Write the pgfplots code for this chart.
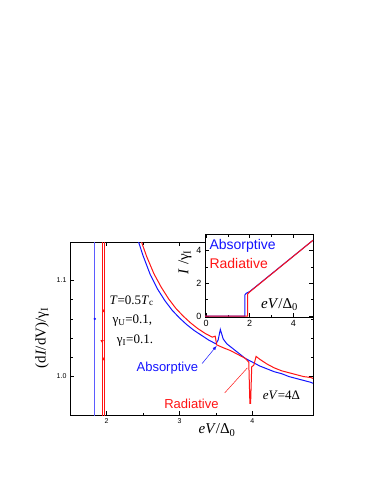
\documentclass[border=0pt]{standalone}
\usepackage{fontspec}
\setmainfont{Liberation Serif}
\setsansfont{Liberation Sans}
\usepackage{pgfplots}
\pgfplotsset{compat=1.18}
\definecolor{cb}{RGB}{20,20,255}
\definecolor{cr}{RGB}{255,20,20}
\begin{document}
\begin{tikzpicture}
\useasboundingbox (0pt,0pt) rectangle (374pt,-484pt);
\begin{axis}[at={(70pt,-415pt)}, anchor=south west, scale only axis,
  width=243pt, height=173pt,
  xmin=1.5, xmax=4.83, ymin=0.96, ymax=1.14,
  xtick={2,3,4}, minor x tick num=1,
  ytick={1.0,1.1}, minor y tick num=4,
  tick align=inside, major tick length=4pt, minor tick length=2.5pt,
  axis line style={line width=0.9pt}, tick style={line width=0.6pt,black},
  yticklabel style={/pgf/number format/fixed,/pgf/number format/precision=1,/pgf/number format/fixed zerofill},
  ticklabel style={font=\sffamily\fontsize{7}{8}\selectfont},
  /pgf/number format/assume math mode=true,
  xlabel={\fontsize{15}{16}\selectfont\textit{eV}/Δ\textsubscript{0}},
  ylabel={\fontsize{15}{16}\selectfont(d\textit{I}/dV)/γ\textsubscript{I}},
  every axis x label/.style={at={(axis description cs:0.605,-0.087)},anchor=center},
  every axis y label/.style={at={(axis description cs:-0.115,0.445)},rotate=90,anchor=center},
  clip=true]
% vertical lines
\addplot[cb!70, line width=1pt] coordinates {(1.84,0.9) (1.84,1.2)};
\addplot[cr, line width=0.6pt] coordinates {(1.94,0.9) (1.94,1.2)};
\addplot[cr, line width=0.6pt] coordinates {(1.965,0.9) (1.965,1.2)};
\addplot[only marks, mark=*, mark size=1pt, cb] coordinates {(1.84,1.06)};
\addplot[only marks, mark=triangle*, mark size=1.5pt, cr] coordinates {(1.96,1.068) (1.96,1.018)};
\addplot[only marks, mark=triangle*, mark options={rotate=180}, mark size=1.5pt, cr] coordinates {(1.94,1.037)};
% blue curve
\addplot[cb, line width=1pt] coordinates {
(2.44,1.14) (2.5,1.126) (2.6,1.106) (2.7,1.091) (2.8,1.079) (2.9,1.069) (3.0,1.061)
(3.1,1.054) (3.2,1.048) (3.3,1.043) (3.4,1.038) (3.5,1.034) (3.53,1.038) (3.56,1.049)
(3.6,1.039) (3.65,1.034) (3.7,1.031) (3.8,1.025) (3.9,1.019) (4.0,1.015) (4.1,1.011)
(4.2,1.008) (4.3,1.005) (4.4,1.003) (4.5,1.0) (4.6,0.998) (4.7,0.996) (4.8,0.994) (4.83,0.993)};
% red curve
\addplot[cr, line width=1pt] coordinates {
(2.48,1.14) (2.55,1.125) (2.65,1.107) (2.75,1.093) (2.85,1.081) (2.95,1.071) (3.05,1.063)
(3.15,1.056) (3.25,1.05) (3.35,1.045) (3.45,1.041) (3.49,1.042) (3.51,1.033) (3.6,1.03)
(3.7,1.027) (3.8,1.023) (3.9,1.019) (3.95,1.015) (3.965,0.972) (3.975,0.972) (3.99,1.01)
(4.02,1.012) (4.05,1.021) (4.1,1.018) (4.2,1.013) (4.3,1.009) (4.4,1.006) (4.5,1.004)
(4.6,1.002) (4.7,1.0) (4.8,0.999) (4.83,0.998)};
% annotations
\node[anchor=west, font=\fontsize{13}{14}\selectfont, inner sep=0pt] at (axis cs:2.04,1.079) {\textit{T}=0.5\textit{T}\textsubscript{c}};
\node[anchor=west, font=\fontsize{13}{14}\selectfont, inner sep=0pt] at (axis cs:2.08,1.058) {γ\textsubscript{U}=0.1,};
\node[anchor=west, font=\fontsize{13}{14}\selectfont, inner sep=0pt] at (axis cs:2.14,1.0375) {γ\textsubscript{I}=0.1.};
\node[anchor=west, font=\sffamily\fontsize{13}{14}\selectfont, text=cb, inner sep=0pt] at (axis cs:2.41,1.009) {Absorptive};
\node[anchor=west, font=\sffamily\fontsize{13}{14}\selectfont, text=cr, inner sep=0pt] at (axis cs:2.79,0.972) {Radiative};
\node[anchor=west, font=\fontsize{13}{14}\selectfont, inner sep=0pt] at (axis cs:4.14,0.98) {\textit{eV}=4Δ};
\draw[cb, -latex, line width=0.5pt] (axis cs:3.31,1.0135) -- (axis cs:3.51,1.032);
\draw[cr, line width=0.5pt] (axis cs:3.62,0.983) -- (axis cs:3.93,1.009);
\end{axis}
\begin{axis}[at={(205pt,-317pt)}, anchor=south west, scale only axis,
  width=108pt, height=83pt,
  xmin=-0.05, xmax=4.9, ymin=-0.05, ymax=5,
  xtick={0,2,4}, minor x tick num=1, ytick={0,2,4}, minor y tick num=1,
  tick align=inside, major tick length=4pt, minor tick length=2.5pt,
  axis line style={line width=0.9pt}, tick style={line width=0.6pt,black},
  axis background/.style={fill=white},
  ticklabel style={font=\sffamily\fontsize{9}{10}\selectfont},
  /pgf/number format/assume math mode=true,
  ylabel={\fontsize{15}{16}\selectfont\textit{I} /γ\textsubscript{I}},
  every axis y label/.style={at={(axis description cs:-0.185,0.66)},rotate=90,anchor=center},
  ]
\addplot[cb, line width=1pt] coordinates {(-0.05,0) (1.78,0) (1.78,1.3) (1.85,1.4) (2.0,1.5) (4.9,4.62)};
\addplot[cr, line width=1pt] coordinates {(-0.05,0) (1.9,0) (1.9,1.35) (2.0,1.48) (4.9,4.62)};
\node[anchor=west, font=\sffamily\fontsize{14}{15}\selectfont, text=cb, inner sep=0pt] at (axis description cs:0.04,0.86) {Absorptive};
\node[anchor=west, font=\sffamily\fontsize{14}{15}\selectfont, text=cr, inner sep=0pt] at (axis description cs:0.04,0.65) {Radiative};
\node[anchor=center, font=\fontsize{15}{16}\selectfont, inner sep=0pt] at (axis description cs:0.69,0.145) {\textit{eV}/Δ\textsubscript{0}};
\end{axis}
\end{tikzpicture}
\end{document}
